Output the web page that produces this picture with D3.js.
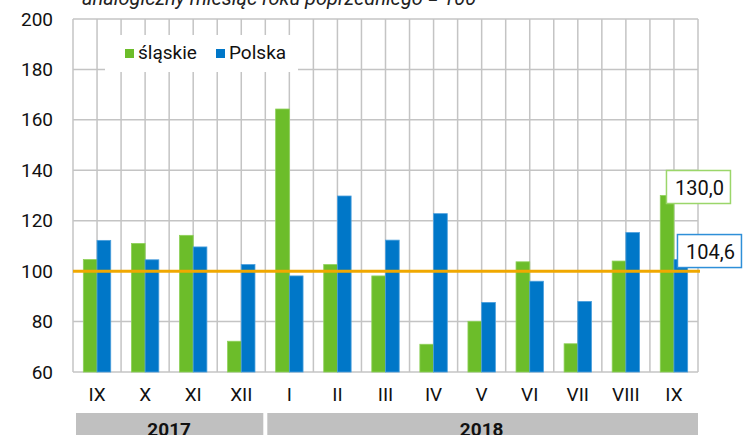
<!DOCTYPE html>
<html>
<head>
<meta charset="utf-8">
<script src="https://cdn.jsdelivr.net/npm/d3@7"></script>
<style>
  body { margin: 0; background: #fff; }
  svg text { font-family: Roboto, "Open Sans", sans-serif; }
</style>
</head>
<body>
<div id="chart"></div>
<script>
// month labels and values (index, same month previous year = 100)
var months = ['IX', 'X', 'XI', 'XII', 'I', 'II', 'III', 'IV', 'V', 'VI', 'VII', 'VIII', 'IX'];
var slaskie = [104.6, 111.0, 114.2, 72.2, 164.3, 102.6, 98.1, 71.0, 80.1, 103.7, 71.2, 104.0, 130.0];
var polska = [112.2, 104.5, 109.6, 102.6, 98.1, 129.8, 112.3, 122.8, 87.6, 96.0, 88.0, 115.3, 104.6];
var years = [{ year: '2017', from: 0, to: 4 }, { year: '2018', from: 4, to: 13 }];
var yTicks = [60, 80, 100, 120, 140, 160, 180, 200];

var svgWidth = 744, svgHeight = 435;
var margin = { top: 19, left: 73, right: 46, bottom: 63 };
var width = svgWidth - margin.left - margin.right;
var height = svgHeight - margin.top - margin.bottom;

var svg = d3.select('#chart').append('svg')
  .attr('width', svgWidth)
  .attr('height', svgHeight);

// title, cut off at the top like in the source
svg.append('text')
  .attr('x', 82).attr('y', 5)
  .attr('font-style', 'italic')
  .attr('font-size', 20)
  .attr('fill', '#222')
  .text('analogiczny miesiąc roku poprzedniego = 100');

var g = svg.append('g').attr('transform', `translate(${margin.left},${margin.top})`);

var x = d3.scaleBand().domain(d3.range(months.length)).range([0, width]);
var y = d3.scaleLinear().domain([60, 200]).range([height, 0]);

// grid - horizontal
g.selectAll('.hgrid').data(yTicks).enter().append('line')
  .attr('x1', 0).attr('x2', width)
  .attr('y1', d => y(d)).attr('y2', d => y(d))
  .attr('stroke', '#c4c4c4').attr('stroke-width', 1.5);

// grid - vertical at band edges and band centres
var vlines = [];
d3.range(months.length).forEach(function(i) {
  vlines.push(x(i));
  vlines.push(x(i) + x.bandwidth() / 2);
});
vlines.push(width);
g.selectAll('.vgrid').data(vlines).enter().append('line')
  .attr('x1', d => d).attr('x2', d => d)
  .attr('y1', 0).attr('y2', height)
  .attr('stroke', '#c4c4c4').attr('stroke-width', 1.5);

// bars
var barW = x.bandwidth() * 0.285;
g.selectAll('.bar-s').data(slaskie).enter().append('rect')
  .attr('x', (d, i) => x(i) + x.bandwidth() / 2 - barW)
  .attr('y', d => y(d))
  .attr('width', barW)
  .attr('height', d => height - y(d))
  .attr('fill', '#6cbd2a')
  .attr('stroke', '#8fd15a').attr('stroke-width', 0.8);

g.selectAll('.bar-p').data(polska).enter().append('rect')
  .attr('x', (d, i) => x(i) + x.bandwidth() / 2)
  .attr('y', d => y(d))
  .attr('width', barW)
  .attr('height', d => height - y(d))
  .attr('fill', '#0077c8')
  .attr('stroke', '#4b9fdc').attr('stroke-width', 0.8);

// 100 reference line
g.append('line')
  .attr('x1', 0).attr('x2', width + 2)
  .attr('y1', y(100)).attr('y2', y(100))
  .attr('stroke', '#f0a800').attr('stroke-width', 3);

// y axis
var yAxis = g.append('g')
  .call(d3.axisLeft(y).tickValues(yTicks).tickSize(0).tickPadding(20));
yAxis.select('.domain').remove();
yAxis.selectAll('text').attr('font-size', 19).attr('fill', '#111');

// x axis
var xAxis = g.append('g').attr('transform', `translate(0,${height})`)
  .call(d3.axisBottom(x).tickFormat(i => months[i]).tickSize(0).tickPadding(16));
xAxis.select('.domain').remove();
xAxis.selectAll('text').attr('font-size', 19).attr('fill', '#111');

// year bands
var yearG = g.selectAll('.year').data(years).enter().append('g');
yearG.append('rect')
  .attr('x', (d, i) => i === 0 ? x(d.from) + 3 : x(d.from) + 2)
  .attr('y', height + 41)
  .attr('width', (d, i) => (d.to < months.length ? x(d.to) : width) - x(d.from) - (i === 0 ? 5 : 2))
  .attr('height', 30)
  .attr('fill', '#c0c0c0');
yearG.append('text')
  .attr('x', d => ((d.to < months.length ? x(d.to) : width) + x(d.from)) / 2)
  .attr('y', height + 64)
  .attr('text-anchor', 'middle')
  .attr('font-size', 19).attr('font-weight', 'bold').attr('fill', '#111')
  .text(d => d.year);

// legend
var leg = g.append('g').attr('transform', 'translate(32,16)');
leg.append('rect').attr('x', 0).attr('y', 0).attr('width', 193).attr('height', 37).attr('fill', '#fff');
var legItems = [{ name: 'śląskie', color: '#6cbd2a', x: 20 }, { name: 'Polska', color: '#0077c8', x: 111 }];
legItems.forEach(function(d) {
  leg.append('rect').attr('x', d.x).attr('y', 14).attr('width', 9).attr('height', 9).attr('fill', d.color);
  leg.append('text').attr('x', d.x + 13).attr('y', 24)
    .attr('font-size', 19).attr('fill', '#111').text(d.name);
});

// value callouts for last month
var last = months.length - 1;
var callouts = [
  { v: slaskie[last], border: '#9bd66a', dx: -7.5 },
  { v: polska[last], border: '#2e8fd8', dx: 3.5 }
];
callouts.forEach(function(c) {
  var cx = x(last) + x.bandwidth() / 2 + c.dx;
  var cy = y(c.v) - 25;
  g.append('rect').attr('x', cx).attr('y', cy).attr('width', 64).attr('height', 33)
    .attr('fill', '#fff').attr('stroke', c.border).attr('stroke-width', 1.5);
  g.append('text').attr('x', cx + 33).attr('y', cy + 24).attr('text-anchor', 'middle')
    .attr('font-size', 20).attr('fill', '#111')
    .text(d3.format('.1f')(c.v).replace('.', ','));
});
</script>
</body>
</html>
